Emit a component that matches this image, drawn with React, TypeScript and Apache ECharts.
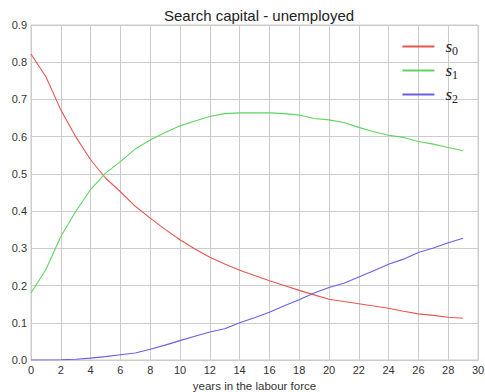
import React, { useEffect, useRef } from "react";
import * as echarts from "echarts";

const years = Array.from({ length: 30 }, (_, i) => i);
const xTicks = [0, 2, 4, 6, 8, 10, 12, 14, 16, 18, 20, 22, 24, 26, 28, 30];
const s0 = [0.822, 0.761, 0.672, 0.6, 0.538, 0.489, 0.452, 0.413, 0.381, 0.351, 0.323, 0.298, 0.276, 0.258, 0.241, 0.227, 0.213, 0.2, 0.187, 0.175, 0.163, 0.157, 0.151, 0.145, 0.139, 0.131, 0.124, 0.12, 0.115, 0.112];
const s1 = [0.18, 0.243, 0.332, 0.399, 0.458, 0.502, 0.533, 0.567, 0.591, 0.611, 0.629, 0.642, 0.654, 0.662, 0.664, 0.664, 0.664, 0.662, 0.658, 0.649, 0.645, 0.638, 0.625, 0.613, 0.604, 0.598, 0.587, 0.58, 0.571, 0.562];
const s2 = [0.0, 0.0, 0.0005, 0.002, 0.005, 0.009, 0.014, 0.019, 0.029, 0.04, 0.052, 0.064, 0.075, 0.084, 0.1, 0.1135, 0.128, 0.146, 0.162, 0.18, 0.195, 0.206, 0.223, 0.24, 0.257, 0.271, 0.289, 0.301, 0.315, 0.327];
const seriesNames = ["s0", "s1", "s2"];
const colors = ["#e8574f", "#5ed65e", "#6b5ee8"];

export default function App() {
  const ref = useRef<HTMLDivElement>(null);
  useEffect(() => {
    if (!ref.current) return;
    const chart = echarts.init(ref.current, null, { renderer: "svg" });
    const data = [s0, s1, s2];
    chart.setOption({
      animation: false,
      backgroundColor: "#ffffff",
      title: {
        text: "Search capital - unemployed",
        left: 254,
        textAlign: "center",
        top: 3,
        textStyle: { fontFamily: "Liberation Sans, Arial, sans-serif", fontSize: 15, fontWeight: "normal", color: "#222" },
      },
      grid: { left: 31, right: 7, top: 25, bottom: 32, show: true, borderColor: "#cccccc", borderWidth: 1, outerBoundsMode: "none", containLabel: false },
      legend: {
        orient: "vertical",
        right: 22,
        top: 33,
        itemWidth: 32,
        itemHeight: 2,
        itemGap: 5,
        icon: "rect",
        data: seriesNames,
        formatter: (name: string) => `{s|s}{d|${name.slice(1)}}`,
        textStyle: {
          rich: {
            s: { fontFamily: "Liberation Serif, serif", fontStyle: "italic", fontSize: 17, color: "#222", padding: [0, 0, 0, 0] },
            d: { fontFamily: "Liberation Serif, serif", fontSize: 12, color: "#222", padding: [9, 0, 0, 0] },
          },
          padding: [0, 0, 0, 6],
        },
      },
      xAxis: {
        type: "value",
        min: 0,
        max: 30,
        interval: 2,
        name: "years in the labour force",
        nameLocation: "middle",
        nameGap: 18,
        nameTextStyle: { fontFamily: "Liberation Sans, Arial, sans-serif", fontSize: 11.5, color: "#333" },
        axisLine: { show: true, lineStyle: { color: "#cccccc" } },
        axisTick: { show: false },
        axisLabel: { fontFamily: "Liberation Sans, Arial, sans-serif", fontSize: 11, color: "#333", margin: 4,
          customValues: xTicks },
        splitLine: { show: true, lineStyle: { color: "#cccccc", width: 1 } },
      },
      yAxis: {
        type: "value",
        min: 0,
        max: 0.9,
        interval: 0.1,
        axisLine: { show: true, lineStyle: { color: "#cccccc" } },
        axisTick: { show: false },
        axisLabel: { fontFamily: "Liberation Sans, Arial, sans-serif", fontSize: 11, color: "#333", margin: 4,
          formatter: (v: number) => v.toFixed(1) },
        splitLine: { show: true, lineStyle: { color: "#cccccc", width: 1 } },
      },
      series: seriesNames.map((n, i) => ({
        name: n,
        type: "line",
        data: years.map((y, j) => [y, data[i][j]]),
        showSymbol: false,
        symbol: "none",
        lineStyle: { color: colors[i], width: 1.1 },
        itemStyle: { color: colors[i] },
      })),
    });
    return () => chart.dispose();
  }, []);
  return <div ref={ref} style={{ width: 485, height: 392, position: "absolute", left: 0, top: 0 }} />;
}
